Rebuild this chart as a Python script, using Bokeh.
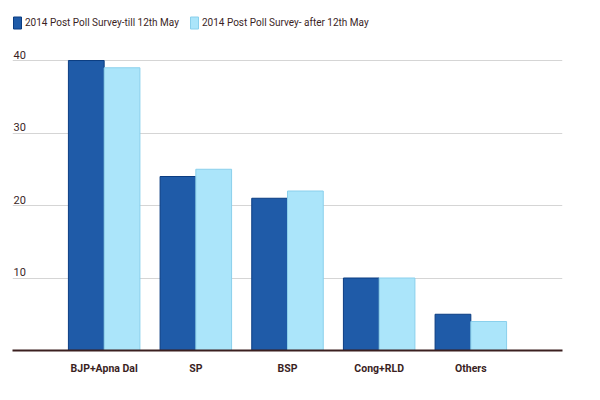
from bokeh.plotting import figure
from bokeh.models import ColumnDataSource, Legend, LegendItem, FixedTicker, Range1d
from bokeh.core.properties import value
from bokeh.transform import dodge
from bokeh.embed import file_html
from bokeh.resources import INLINE

categories = ["BJP+Apna Dal", "SP", "BSP", "Cong+RLD", "Others"]
till_12 = [40, 24, 21, 10, 5]
after_12 = [39, 25, 22, 10, 4]
series_names = ["2014 Post Poll Survey-till 12th May", "2014 Post Poll Survey- after 12th May"]
y_ticks = [10, 20, 30, 40]

FONT = "Roboto"
TXT = "#3b1f1f"

xs = list(range(1, len(categories) + 1))
src = ColumnDataSource(dict(x=xs, till=till_12, after=after_12))

p = figure(width=592, height=392, output_backend="svg", toolbar_location=None,
           x_range=Range1d(0, 6), y_range=Range1d(0, 48.28),
           min_border_left=12, min_border_right=30, min_border_top=0, min_border_bottom=42)
p.outline_line_color = None
p.background_fill_color = "white"

r1 = p.vbar(x=dodge("x", -0.195), top="till", width=0.39, bottom=0, source=src,
            fill_color="#1f5ba8", line_color="#0b3d82", line_width=1)
r2 = p.vbar(x=dodge("x", 0.195), top="after", width=0.39, bottom=0, source=src,
            fill_color="#abe5fa", line_color="#8ad0ec", line_width=1)

p.yaxis.visible = False
p.ygrid.ticker = FixedTicker(ticks=y_ticks)
p.ygrid.grid_line_color = "#d5d5d5"
p.xgrid.visible = False

xa = p.xaxis[0]
xa.ticker = FixedTicker(ticks=xs)
xa.major_label_overrides = {i: c for i, c in zip(xs, categories)}
xa.axis_line_color = TXT
xa.axis_line_width = 2
xa.major_tick_line_color = None
xa.minor_tick_line_color = None
xa.major_label_standoff = 5
xa.major_label_text_font = FONT
xa.major_label_text_font_style = "bold"
xa.major_label_text_font_size = "10.5px"
xa.major_label_text_color = TXT

lab = ColumnDataSource(dict(x=[0] * len(y_ticks), y=y_ticks, t=[str(v) for v in y_ticks]))
p.text(x="x", y="y", text="t", source=lab, x_offset=1, y_offset=-6,
       text_baseline="alphabetic", text_align="left", text_font=value(FONT),
       text_font_size="11px", text_color=TXT)

legend = Legend(items=[LegendItem(label=series_names[0], renderers=[r1]),
                       LegendItem(label=series_names[1], renderers=[r2])],
                orientation="horizontal", location=(0, 320),
                glyph_width=10, glyph_height=15, label_standoff=3, spacing=10,
                padding=0, margin=0, border_line_color=None, background_fill_alpha=0,
                label_text_font=FONT, label_text_font_size="10px", label_text_color=TXT,
                label_height=15)
p.add_layout(legend, "center")

open("out.html", "w").write(file_html(p, INLINE))
